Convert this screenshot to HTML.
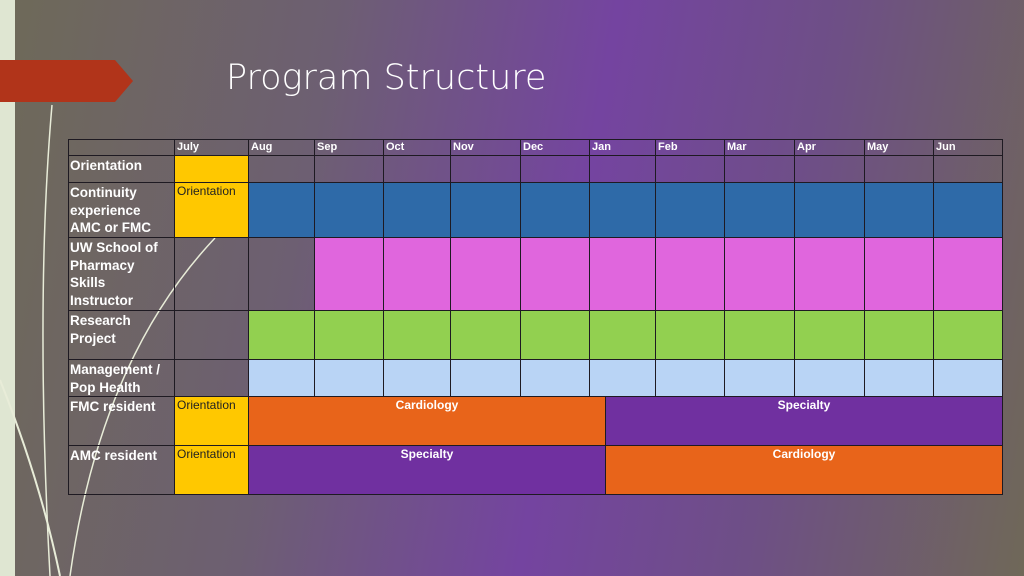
<!DOCTYPE html>
<html><head><meta charset="utf-8"><style>
body{margin:0;width:1024px;height:576px;overflow:hidden;position:relative;font-family:"Liberation Sans",sans-serif;
background:linear-gradient(100deg,#6e6a58 0%,#6d5f72 30%,#7444a0 55%,#6e4f86 75%,#6f6858 100%);}
.a{position:absolute;box-sizing:border-box}
.c{position:absolute;box-sizing:border-box;border:1px solid #1e1a22;font-size:12px;color:#fff;font-weight:bold;padding:1px 2px}
.rl{font-size:13.5px;line-height:17.5px;padding:1px 1px}
.rl span{display:block;width:100px}
.o{color:#222;font-weight:normal;font-size:12px}
</style></head><body>
<div class="a" style="left:0;top:0;width:15px;height:576px;background:#dfe6d2"></div>
<svg class="a" style="left:0;top:0" width="300" height="576"><path d="M52 105 Q35 300 50 576" stroke="#e8ecd8" fill="none" stroke-width="1.5"/><path d="M215 238 Q100 360 70 576" stroke="#e8ecd8" fill="none" stroke-width="1.5"/><path d="M0 380 Q40 480 60 576" stroke="#e8ecd8" fill="none" stroke-width="2"/></svg>
<svg class="a" style="left:0;top:60px" width="134" height="43"><polygon points="0,0 115,0 133,21 115,42 0,42" fill="#b1341a"/></svg>
<div class="a" style="left:226px;top:58px;font-size:35px;color:#fff;font-family:'DejaVu Sans','Liberation Sans',sans-serif;font-weight:200">Program Structure</div>
<div id="t"></div>
<script>
const months=["July","Aug","Sep","Oct","Nov","Dec","Jan","Feb","Mar","Apr","May","Jun"];
const xs=[68,174,248,314,383,450,520,589,655,724,794,864,933,1002];
const ys=[139,155,182,237,310,359,396,445,494];
const rows=["","Orientation","Continuity experience AMC or FMC","UW School of Pharmacy Skills Instructor","Research Project","Management / Pop Health","FMC resident","AMC resident"];
const Y="#ffc800",B="#2e6aa8",P="#e066dd",G="#92d050",L="#b9d4f5",O="#e8641a",V="#7030a0";
const t=document.getElementById('t');
function cell(x1,y1,x2,y2,bg,txt,cls,name){const d=document.createElement('div');d.className='c '+(cls||'');


d.style.left=x1+'px';d.style.top=y1+'px';d.style.width=(x2-x1+1)+'px';d.style.height=(y2-y1+1)+'px';if(bg)d.style.background=bg;d.textContent=txt||'';t.appendChild(d);return d;}
cell(xs[0],ys[0],xs[1],ys[1],null,'','', 'header-corner');
months.forEach((m,i)=>{const d=cell(xs[i+1],ys[0],xs[i+2],ys[1],null,m,'','header-'+m.toLowerCase());d.style.fontSize='11px';d.style.fontWeight='600';});
for(let r=1;r<8;r++){const d=cell(xs[0],ys[r],xs[1],ys[r+1],null,'','rl','row-label-'+r);const s=document.createElement('span');s.textContent=rows[r];d.appendChild(s);}
cell(xs[1],ys[1],xs[2],ys[2],Y,'','', 'orientation-july');
cell(xs[1],ys[2],xs[2],ys[3],Y,'Orientation','o','continuity-july');
cell(xs[1],ys[3],xs[2],ys[4],null,'','', 'uw-july');
cell(xs[1],ys[4],xs[2],ys[5],null,'','', 'research-july');
cell(xs[1],ys[5],xs[2],ys[6],null,'','', 'mgmt-july');
cell(xs[1],ys[6],xs[2],ys[7],Y,'Orientation','o','fmc-july');
cell(xs[1],ys[7],xs[2],ys[8],Y,'Orientation','o','amc-july');
const fills=[[null,null],[B,B],[null,P],[G,G],[L,L]];
for(let i=2;i<13;i++){
 cell(xs[i],ys[1],xs[i+1],ys[2],null,'','', 'orientation-'+months[i-1].toLowerCase());
 for(let r=2;r<=5;r++){const f=fills[r-1];cell(xs[i],ys[r],xs[i+1],ys[r+1],i==2?f[0]:f[1],'','', 'cell-r'+r+'-'+months[i-1].toLowerCase());}
}
const mid=605;
let d;
d=cell(xs[2],ys[6],mid,ys[7],O,'Cardiology','', 'fmc-cardiology');d.style.textAlign='center';
d=cell(mid,ys[6],xs[13],ys[7],V,'Specialty','', 'fmc-specialty');d.style.textAlign='center';
d=cell(xs[2],ys[7],mid,ys[8],V,'Specialty','', 'amc-specialty');d.style.textAlign='center';
d=cell(mid,ys[7],xs[13],ys[8],O,'Cardiology','', 'amc-cardiology');d.style.textAlign='center';
</script>
</body></html>
